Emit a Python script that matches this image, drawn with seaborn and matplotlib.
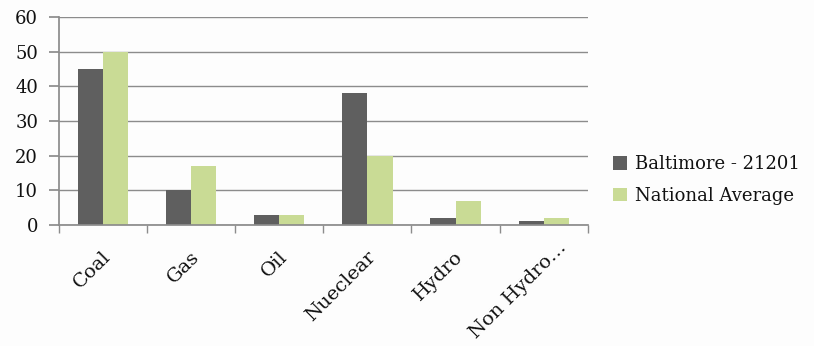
import matplotlib
matplotlib.use("Agg")
import matplotlib.pyplot as plt
import matplotlib.transforms as mtransforms
import seaborn as sns
import pandas as pd

categories = ["Coal", "Gas", "Oil", "Nueclear", "Hydro", "Non Hydro…"]
baltimore = [45, 10, 3, 38, 2, 1]
national = [50, 17, 3, 20, 7, 2]
series_names = ["Baltimore - 21201", "National Average"]
colors = ["#5f5f5f", "#c9db95"]

df = pd.DataFrame({
    "cat": categories * 2,
    "val": baltimore + national,
    "series": [series_names[0]] * len(categories) + [series_names[1]] * len(categories),
})

sns.set_theme(style="white")
plt.rcParams["font.family"] = ["DejaVu Serif"]

fig = plt.figure(figsize=(8.14, 3.46), dpi=100)
fig.patch.set_facecolor("#fdfdfd")
ax = fig.add_axes([0.0725, 0.35, 0.6495, 0.601])
ax.set_facecolor("#fdfdfd")

sns.barplot(data=df, x="cat", y="val", hue="series", palette=colors,
            width=0.57, saturation=1, ax=ax, legend=True, linewidth=0)

ax.set_ylim(0, 60)
ax.set_yticks(range(0, 61, 10))
ax.set_xlim(-0.5, 5.5)
ax.yaxis.grid(True, color="#8c8c8c", linewidth=1)
ax.set_axisbelow(True)
for s in ["top", "right"]:
    ax.spines[s].set_visible(False)
ax.spines["left"].set_color("#8c8c8c")
ax.spines["bottom"].set_color("#8c8c8c")
ax.set_xlabel("")
ax.set_ylabel("")

ax.set_xticks([i + 0.5 for i in range(-1, 6)], minor=True)
ax.tick_params(axis="x", which="minor", length=6, color="#8c8c8c", bottom=True)
ax.tick_params(axis="x", which="major", length=0, pad=21)
ax.tick_params(axis="y", length=7, color="#8c8c8c", left=True, labelsize=13, pad=8,
               labelcolor="#111111")
ax.set_xticks(range(6))
ax.set_xticklabels(categories, rotation=45, ha="right", va="center",
                   rotation_mode="anchor", fontsize=14, color="#111111")
labels_x = ax.get_xticklabels()
for i, lbl in enumerate(labels_x):
    dx, dy = (5, 0) if i < len(labels_x) - 1 else (20, 9)
    offset = mtransforms.ScaledTranslation(dx / 100, dy / 100, fig.dpi_scale_trans)
    lbl.set_transform(lbl.get_transform() + offset)

handles, labels = ax.get_legend_handles_labels()
ax.get_legend().remove()
fig.legend(handles, labels, loc="center left",
           bbox_to_anchor=(613 / 814, 1 - 180 / 346),
           frameon=False, fontsize=13, handlelength=0.8, handleheight=0.8,
           handletextpad=0.4, labelspacing=0.75, borderpad=0, borderaxespad=0,
           labelcolor="#111111")

fig.savefig("out.png", dpi=100, facecolor=fig.get_facecolor())
